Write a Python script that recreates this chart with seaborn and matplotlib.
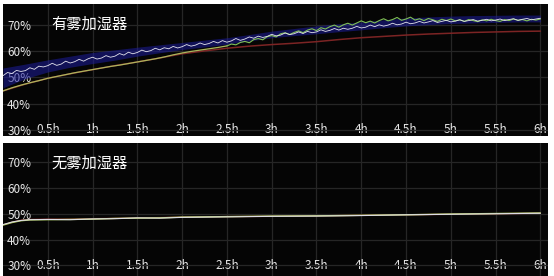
import numpy as np
import pandas as pd
import matplotlib
matplotlib.use("Agg")
import matplotlib.pyplot as plt
import seaborn as sns

# ---------------- data ----------------
titles = ["有雾加湿器", "无雾加湿器"]
y_ticks = [30, 40, 50, 60, 70]
y_tick_labels = ["30%", "40%", "50%", "60%", "70%"]
x_ticks = [0.5, 1, 1.5, 2, 2.5, 3, 3.5, 4, 4.5, 5, 5.5, 6]
x_tick_labels = ["0.5h", "1h", "1.5h", "2h", "2.5h", "3h", "3.5h", "4h", "4.5h", "5h", "5.5h", "6h"]

# top panel: white noisy trace (every 0.05 h)
top_white_t = [i * 0.05 for i in range(121)]
top_white = [50.6, 51.8, 51.4, 52.6, 52.2, 52.5, 53.6, 53.0, 54.2, 53.9,
             54.4, 55.3, 54.5, 55.0, 56.1, 55.4, 55.9, 56.8, 56.1, 57.0,
             57.6, 56.9, 57.3, 58.2, 57.6, 58.0, 59.0, 58.4, 59.5, 58.9,
             59.4, 60.3, 59.7, 60.1, 61.0, 60.4, 61.2, 60.8, 61.7, 61.1,
             61.6, 62.4, 61.8, 62.2, 63.0, 62.4, 62.8, 63.6, 63.0, 63.9,
             63.3, 63.8, 64.7, 64.0, 64.5, 65.3, 64.8, 65.6, 65.1, 65.5,
             66.3, 65.7, 66.0, 66.8, 66.2, 66.5, 67.2, 66.6, 67.4, 66.9,
             67.2, 68.0, 67.4, 67.8, 68.5, 67.9, 68.6, 68.2, 68.6, 69.3,
             68.7, 69.0, 69.8, 69.2, 69.9, 69.4, 69.8, 70.5, 69.9, 70.2,
             70.9, 70.3, 70.6, 71.2, 70.6, 71.0, 71.5, 70.8, 71.2, 71.6,
             71.0, 71.3, 71.8, 71.2, 71.5, 71.9, 71.3, 71.6, 72.0, 71.4,
             71.7, 72.1, 71.5, 71.9, 72.2, 71.6, 72.0, 72.3, 71.8, 72.1,
             72.4]

# top panel: yellow (smooth, first 2.5 h, every 0.1 h)
top_yellow_t = [i * 0.1 for i in range(26)]
top_yellow = [44.8, 46.0, 47.0, 47.9, 48.7, 49.6, 50.3, 51.0, 51.7, 52.3,
              52.9, 53.5, 54.1, 54.6, 55.2, 55.8, 56.4, 57.0, 57.7, 58.5,
              59.2, 59.8, 60.3, 60.8, 61.3, 61.9]

# top panel: green (noisy, 2.5 h to 6 h, every 0.05 h)
top_green_t = [2.5 + i * 0.05 for i in range(71)]
top_green = [61.9, 62.6, 62.3, 63.2, 63.6, 63.1, 64.3, 64.7, 64.2, 65.4,
             65.8, 65.3, 66.5, 66.9, 66.2, 67.0, 67.6, 66.9, 67.9, 68.4,
             67.7, 68.8, 68.3, 69.2, 69.8, 69.0, 69.9, 70.5, 69.8, 70.6,
             71.4, 70.7, 71.3, 70.6, 71.5, 72.2, 71.4, 71.9, 72.7, 71.6,
             72.1, 72.8, 71.7, 72.2, 71.5, 72.3, 71.8, 71.2, 72.0, 71.5,
             72.1, 71.4, 71.8, 71.2, 71.9, 71.5, 71.1, 71.8, 71.4, 72.0,
             71.5, 71.2, 71.9, 71.5, 72.1, 71.6, 71.9, 71.4, 72.0, 71.7,
             72.1]

# top panel: red trace (every 0.25 h)
top_red_t = [i * 0.25 for i in range(25)]
top_red = [44.8, 47.4, 49.6, 51.3, 52.9, 54.4, 55.8, 57.3, 58.9, 60.0,
           61.0, 61.8, 62.4, 62.9, 63.5, 64.3, 65.0, 65.5, 66.0, 66.4,
           66.7, 67.0, 67.2, 67.4, 67.5]

# top panel: blue envelope (every 0.25 h)
band_t = [i * 0.25 for i in range(25)]
band_upper = [53.5, 55.0, 56.6, 58.0, 59.4, 60.4, 61.4, 62.3, 63.2, 64.1,
              65.0, 66.2, 67.5, 68.5, 69.5, 70.3, 71.0, 71.8, 72.5, 72.9,
              73.2, 73.4, 73.5, 73.6, 73.6]
band_lower = [46.0, 49.5, 52.0, 53.8, 55.2, 56.5, 58.0, 59.3, 60.5, 61.5,
              62.5, 63.8, 65.0, 65.8, 66.5, 67.3, 68.0, 68.8, 69.5, 70.0,
              70.4, 70.6, 70.8, 71.0, 71.0]

# bottom panel traces
bot_t = [0, 0.1, 0.2, 0.3, 0.5, 0.75, 1, 1.25, 1.5, 1.75, 2, 2.5, 3, 3.5, 4, 4.5, 5, 5.5, 6]
bot_white = [45.8, 46.8, 47.4, 47.7, 47.8, 47.7, 48.0, 48.1, 48.4, 48.3, 48.6, 48.8,
             49.0, 49.1, 49.3, 49.6, 49.8, 50.0, 50.2]
bot_green = [45.6, 46.6, 47.3, 47.6, 47.7, 47.8, 47.9, 48.2, 48.3, 48.4, 48.7, 48.9,
             49.1, 49.2, 49.4, 49.6, 49.9, 50.1, 50.3]
bot_red = [45.7, 46.7, 47.5, 47.8, 47.9, 47.9, 48.1, 48.2, 48.4, 48.5, 48.7, 48.9,
           49.0, 49.2, 49.4, 49.6, 49.8, 50.0, 50.2]

# ---------------- figure ----------------
sns.set_theme(style="dark")
plt.rcParams["font.family"] = ["Noto Sans CJK SC", "DejaVu Sans"]

W, H = 554, 276
fig = plt.figure(figsize=(W / 100, H / 100), dpi=100)
fig.patch.set_facecolor("white")

def px_axes(x0, y0, x1, y1):
    return fig.add_axes([x0 / W, 1 - y1 / H, (x1 - x0) / W, (y1 - y0) / H])

ax_top = px_axes(3, 4, 548, 136)
ax_bot = px_axes(3, 143, 548, 276)

txt_color = "#e6e6e6"
grid_color = "#262626"

def style(ax, ylim, xpad, title, title_y):
    ax.set_facecolor("#050505")
    ax.set_xlim(0, 6.085)
    ax.set_ylim(*ylim)
    ax.set_yticks(y_ticks)
    ax.set_yticklabels(y_tick_labels)
    ax.set_xticks(x_ticks)
    ax.set_xticklabels(x_tick_labels)
    ax.grid(True, color=grid_color, linewidth=0.9)
    ax.tick_params(axis="y", length=0, pad=-3, colors=txt_color, labelsize=8.5)
    ax.tick_params(axis="x", length=0, pad=xpad, colors=txt_color, labelsize=8.5)
    for lab in ax.get_yticklabels():
        lab.set_horizontalalignment("left")
    for lab in ax.get_xticklabels():
        lab.set_verticalalignment("center")
    for s in ax.spines.values():
        s.set_visible(False)
    ax.set_xlabel("")
    ax.set_ylabel("")
    ax.text(0.088, title_y, title, transform=ax.transAxes, color="white",
            fontsize=11, ha="left", va="center")

# top panel
ax_top.fill_between(band_t, band_lower, band_upper, color="#1c1c9c", alpha=0.55,
                    linewidth=0, zorder=2)
sns.lineplot(x=top_red_t, y=top_red, ax=ax_top, color="#7c2424", linewidth=1.1, zorder=3)
sns.lineplot(x=top_yellow_t, y=top_yellow, ax=ax_top, color="#aab55c", linewidth=0.9, zorder=4)
sns.lineplot(x=top_green_t, y=top_green, ax=ax_top, color="#7fbf55", linewidth=0.8, zorder=4)
sns.lineplot(x=top_white_t, y=top_white, ax=ax_top, color="#e2e2ec", linewidth=0.6, zorder=5)
style(ax_top, (27.7, 77.8), -4.5, titles[0], 0.845)

# bottom panel
sns.lineplot(x=bot_t, y=bot_red, ax=ax_bot, color="#7c2424", linewidth=1.0, zorder=3)
sns.lineplot(x=bot_t, y=bot_green, ax=ax_bot, color="#a9c95c", linewidth=1.0, zorder=4)
sns.lineplot(x=bot_t, y=bot_white, ax=ax_bot, color="#dcdce4", linewidth=0.8, zorder=5)
style(ax_bot, (25.9, 77.4), -7.3, titles[1], 0.85)

fig.savefig("out.png", dpi=100, facecolor="white")
